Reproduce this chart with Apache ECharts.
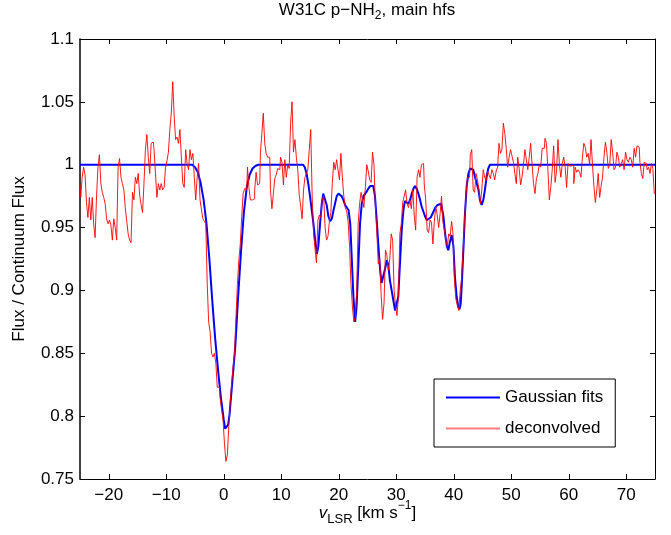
<!DOCTYPE html>
<html><head><meta charset="utf-8">
<script src="https://cdn.jsdelivr.net/npm/echarts@6/dist/echarts.min.js"></script>
<style>html,body{margin:0;padding:0;background:#fff}#c{width:671px;height:535px}</style>
</head><body><div id="c"></div>
<script>
// ---- data ----
const xTicks = [-20, -10, 0, 10, 20, 30, 40, 50, 60, 70];
const channelWidth = 0.25;
const redSegmentStarts = [-25, -3.75, 9.75, 28.75, 49];
const red1 = [
0.985,0.974,0.99,0.998,0.992,0.97,0.958,0.974,0.956,0.974,0.953,0.942,0.975,
0.998,1.008,0.985,0.978,0.974,0.969,0.957,0.953,0.956,0.952,0.94,0.957,
0.95,0.94,0.998,1.005,0.99,0.985,0.98,0.966,0.955,0.945,0.94,0.938,
0.978,0.972,0.99,0.985,0.993,0.976,0.968,0.962,0.985,1.012,1.024,1.006,
0.993,1.017,1.018,1.012,0.993,0.974,0.985,0.98,0.985,0.98,0.982,0.998,
1.003,1.01,1.028,1.041,1.066,1.039,1.02,1.022,1.017,1.028,1.006,0.985,
0.982,1.012,1.001,0.996,1.012,1.004,1.009,0.99,0.972,0.99,1.001,0.972];
const red2 = [
0.964,0.957,0.955,0.953,
0.905,0.875,0.867,0.85,0.847,0.85,0.842,0.823,
0.823,0.814,0.805,0.797,0.778,0.764,0.769,0.792,
0.811,0.826,0.839,0.85,0.879,0.905,0.924,0.937,
0.959,0.977,0.981,0.98,0.998,0.982,0.972,0.972,
0.973,0.98,0.994,0.984,0.985,1.009,1.025,1.041,
1.017,1.009,1.006,1.006,0.98,0.965,0.977,0.989,
0.992,0.997];
const red3 = [
0.996,1.006,1.002,0.984,1.004,0.99,1.0,0.997,
1.033,1.05,1.01,1.02,1.006,0.996,0.976,0.967,
0.957,0.98,0.99,0.993,0.996,1.012,1.028,0.975,
0.945,0.933,0.922,0.956,0.96,0.958,0.972,0.975,
0.95,0.94,0.943,0.955,0.962,0.985,1.002,0.996,
1.004,0.996,0.988,1.009,0.99,0.975,0.966,0.963,
0.955,0.935,0.905,0.887,0.875,0.879,0.9,0.953,
0.969,0.978,0.972,0.966,0.982,1.0,0.995,0.988,
0.986,1.01,1.0,0.967,0.946,0.921,0.925,0.896,
0.877,0.89,0.932,0.928];
const red4 = [
0.916,0.925,0.945,0.94,0.9,0.888,0.88,0.895,
0.945,0.953,0.97,0.975,0.98,0.969,0.966,0.972,
0.965,0.98,0.96,0.948,0.99,0.996,0.99,1.0,
1.001,0.984,0.972,0.948,0.946,0.956,0.954,0.937,
0.955,0.967,0.96,0.95,0.961,0.975,0.954,0.948,
0.94,0.935,0.945,0.943,0.955,0.945,0.908,0.893,
0.888,0.884,0.9,0.91,0.932,0.956,0.975,0.99,
0.99,1.008,1.012,0.98,0.978,0.993,0.988,0.98,
0.969,0.98,0.996,0.99,0.987,0.995,0.992,0.989,
0.996,0.993,0.988,0.995,0.998,1.017,1.009,1.012,
1.033];
const red5 = [
1.025,1.013,0.998,1.006,1.012,1.007,1.002,0.993,
0.985,1.006,0.997,0.984,0.99,1.0,1.012,1.004,
0.996,1.006,1.017,1.0,0.985,0.977,0.989,0.993,
1.0,0.998,1.013,1.013,1.021,1.017,0.996,0.972,
0.982,0.996,1.015,0.986,0.995,1.02,1.0,0.99,
1.001,1.006,0.998,0.982,1.001,0.999,0.999,1.0,
0.985,0.998,0.994,0.996,0.994,0.99,1.006,1.017,
1.014,1.006,1.009,1.0,1.02,1.0,0.983,0.97,
0.98,0.993,0.974,0.983,0.99,1.006,1.018,1.01,
0.997,1.0,1.02,1.01,0.996,0.998,1.01,1.006,
0.998,1.001,1.004,0.996,1.01,1.004,1.002,1.006,
1.004,0.998,1.013,1.006,1.015,1.014,1.002,0.993,
0.989,1.002,1.001,0.996,0.998,0.993,1.001,0.997,
0.977];
const blueVel = [-25,-6,-5.5,-5,-4.5,-4,-3.5,-3,-2.5,-2,-1.5,-1,-0.5,0,0.25,0.5,0.75,1,1.5,2,2.5,3,3.5,4,4.5,5,5.5,6,
13.8,14.1,14.4,14.7,15,15.3,15.6,15.9,16.2,16.45,16.75,17.05,17.3,17.6,17.9,18.2,18.5,18.8,19.05,19.35,19.65,19.95,20.25,20.5,20.8,21.1,21.4,21.7,22,22.25,22.55,22.85,23.1,23.4,23.7,24,24.3,24.6,24.9,25.15,25.45,25.7,26,26.3,26.6,26.9,27.2,27.45,27.75,28.05,28.35,28.6,28.9,29.2,29.5,29.8,30.05,30.35,30.65,30.95,31.25,31.5,31.8,32.1,32.4,32.7,33,33.25,33.55,33.85,34.15,34.4,34.7,35,35.3,35.6,36,36.4,36.8,37.2,37.8,38.2,38.5,38.8,39.05,39.35,39.65,39.95,40.2,40.5,40.8,41,41.2,41.4,41.7,41.95,42.25,42.55,42.85,43.1,43.4,43.7,44,44.3,44.55,44.85,45.15,45.45,45.7,46,46.3,75];
const blueFlux = [1,1,1,0.998,0.994,0.985,0.972,0.953,0.925,0.892,0.862,0.837,0.815,0.797,0.79,0.789,0.793,0.801,0.828,0.855,0.895,0.931,0.962,0.982,0.992,0.997,0.999,1,
1,0.998,0.993,0.985,0.975,0.964,0.953,0.94,0.929,0.935,0.953,0.969,0.977,0.976,0.968,0.959,0.955,0.957,0.963,0.969,0.975,0.977,0.977,0.975,0.972,0.968,0.967,0.964,0.953,0.927,0.895,0.875,0.887,0.919,0.953,0.969,0.975,0.976,0.979,0.981,0.983,0.984,0.983,0.975,0.956,0.935,0.916,0.906,0.905,0.917,0.924,0.921,0.908,0.9,0.892,0.884,0.883,0.895,0.922,0.948,0.964,0.971,0.971,0.969,0.972,0.977,0.981,0.983,0.981,0.977,0.972,0.967,0.963,0.959,0.956,0.956,0.958,0.962,0.966,0.968,0.969,0.959,0.945,0.935,0.932,0.939,0.944,0.935,0.911,0.895,0.887,0.885,0.889,0.905,0.935,0.961,0.983,0.993,0.997,0.998,0.996,0.99,0.985,0.98,0.972,0.968,0.972,0.981,0.99,0.997,1,1];

// ---- build series data ----
const redSegments = [red1, red2, red3, red4, red5];
const redData = [];
redSegments.forEach((seg, s) => seg.forEach((f, i) => redData.push([redSegmentStarts[s] + i * channelWidth, f])));
const blueData = blueVel.map((v, i) => [v, blueFlux[i]]);

const FONT = "'Liberation Sans', Arial, Helvetica, sans-serif";
const chart = echarts.init(document.getElementById('c'), null, {renderer: 'canvas'});
const axisLineStyle = {color: '#000', width: 1};
chart.setOption({
  animation: false,
  backgroundColor: '#fff',
  textStyle: {fontFamily: FONT},
  title: {
    text: '{a|W31C p\u2212NH}{s|2}{a|, main hfs}',
    left: 367, top: -2, padding: 0, textAlign: 'center',
    textStyle: {
      fontWeight: 'normal',
      rich: {
        a: {fontSize: 17, fontWeight: 'normal', fontFamily: FONT, color: '#000', lineHeight: 24, verticalAlign: 'middle'},
        s: {fontSize: 12, fontWeight: 'normal', fontFamily: FONT, color: '#000', lineHeight: 12, verticalAlign: 'bottom'}
      }
    }
  },
  grid: {left: 80, top: 39, width: 575, height: 440, outerBoundsMode: 'none', containLabel: false},
  legend: {
    orient: 'vertical', left: 434, top: 379,
    padding: [9, 12, 9, 12], itemGap: 12,
    itemWidth: 54, itemHeight: 2,
    borderColor: '#000', borderWidth: 1, backgroundColor: '#fff',
    textStyle: {fontSize: 17, color: '#000', fontFamily: FONT, lineHeight: 19},
    data: [
      {name: 'Gaussian fits', icon: 'rect', itemStyle: {color: '#0000ff'}},
      {name: 'deconvolved', icon: 'rect', itemStyle: {color: '#ff7a7a'}}
    ]
  },
  xAxis: [{
    type: 'value', min: -25, max: 75, position: 'bottom',
    axisLine: {show: true, onZero: false, lineStyle: axisLineStyle},
    axisTick: {show: true, inside: true, length: 5, customValues: xTicks, lineStyle: {color: '#000'}},
    axisLabel: {show: true, customValues: xTicks, fontSize: 17, color: '#000', margin: 8, fontFamily: FONT,
      formatter: v => String(v).replace('-', '\u2212')},
    splitLine: {show: false},
    name: '{v|v}{sub|LSR}{t| [km s}{sup|\u22121}{t|]}',
    nameLocation: 'middle', nameGap: 21, nameMoveOverlap: false,
    nameTextStyle: {
      rich: {
        v: {fontSize: 17, fontStyle: 'italic', fontFamily: FONT, color: '#000', lineHeight: 26, verticalAlign: 'middle'},
        t: {fontSize: 17, fontFamily: FONT, color: '#000', lineHeight: 26, verticalAlign: 'middle'},
        sub: {fontSize: 13, fontFamily: FONT, color: '#000', lineHeight: 13, verticalAlign: 'bottom'},
        sup: {fontSize: 12, fontFamily: FONT, color: '#000', lineHeight: 12, verticalAlign: 'top'}
      }
    }
  }, {
    type: 'value', min: -25, max: 75, position: 'top',
    axisLine: {show: true, onZero: false, lineStyle: axisLineStyle},
    axisTick: {show: true, inside: true, length: 5, customValues: xTicks, lineStyle: {color: '#000'}},
    axisLabel: {show: false},
    splitLine: {show: false}
  }],
  yAxis: [{
    type: 'value', min: 0.75, max: 1.1, interval: 0.05, position: 'left',
    axisLine: {show: true, onZero: false, lineStyle: {color: '#000', width: 1.5}},
    axisTick: {show: true, inside: true, length: 5, lineStyle: {color: '#000'}},
    axisLabel: {fontSize: 17, color: '#000', margin: 6, fontFamily: FONT, formatter: v => String(+v.toFixed(2))},
    splitLine: {show: false},
    name: 'Flux / Continuum Flux', nameLocation: 'middle', nameGap: 52, nameMoveOverlap: false,
    nameTextStyle: {fontSize: 17, color: '#000', fontFamily: FONT}
  }, {
    type: 'value', min: 0.75, max: 1.1, interval: 0.05, position: 'right',
    axisLine: {show: true, onZero: false, lineStyle: axisLineStyle},
    axisTick: {show: true, inside: true, length: 5, lineStyle: {color: '#000'}},
    axisLabel: {show: false},
    splitLine: {show: false}
  }],
  series: [{
    name: 'Gaussian fits', type: 'line', data: blueData,
    xAxisIndex: 0, yAxisIndex: 0,
    showSymbol: false, symbol: 'none', clip: true,
    lineStyle: {color: '#0000ff', width: 2}, itemStyle: {color: '#0000ff'},
    z: 2
  }, {
    name: 'deconvolved', type: 'line', data: redData, step: 'middle',
    xAxisIndex: 0, yAxisIndex: 0,
    showSymbol: false, symbol: 'none', clip: true,
    lineStyle: {color: '#ff0000', width: 1, opacity: 0.9}, itemStyle: {color: '#ff7a7a'},
    z: 3
  }]
});
</script>
</body></html>
